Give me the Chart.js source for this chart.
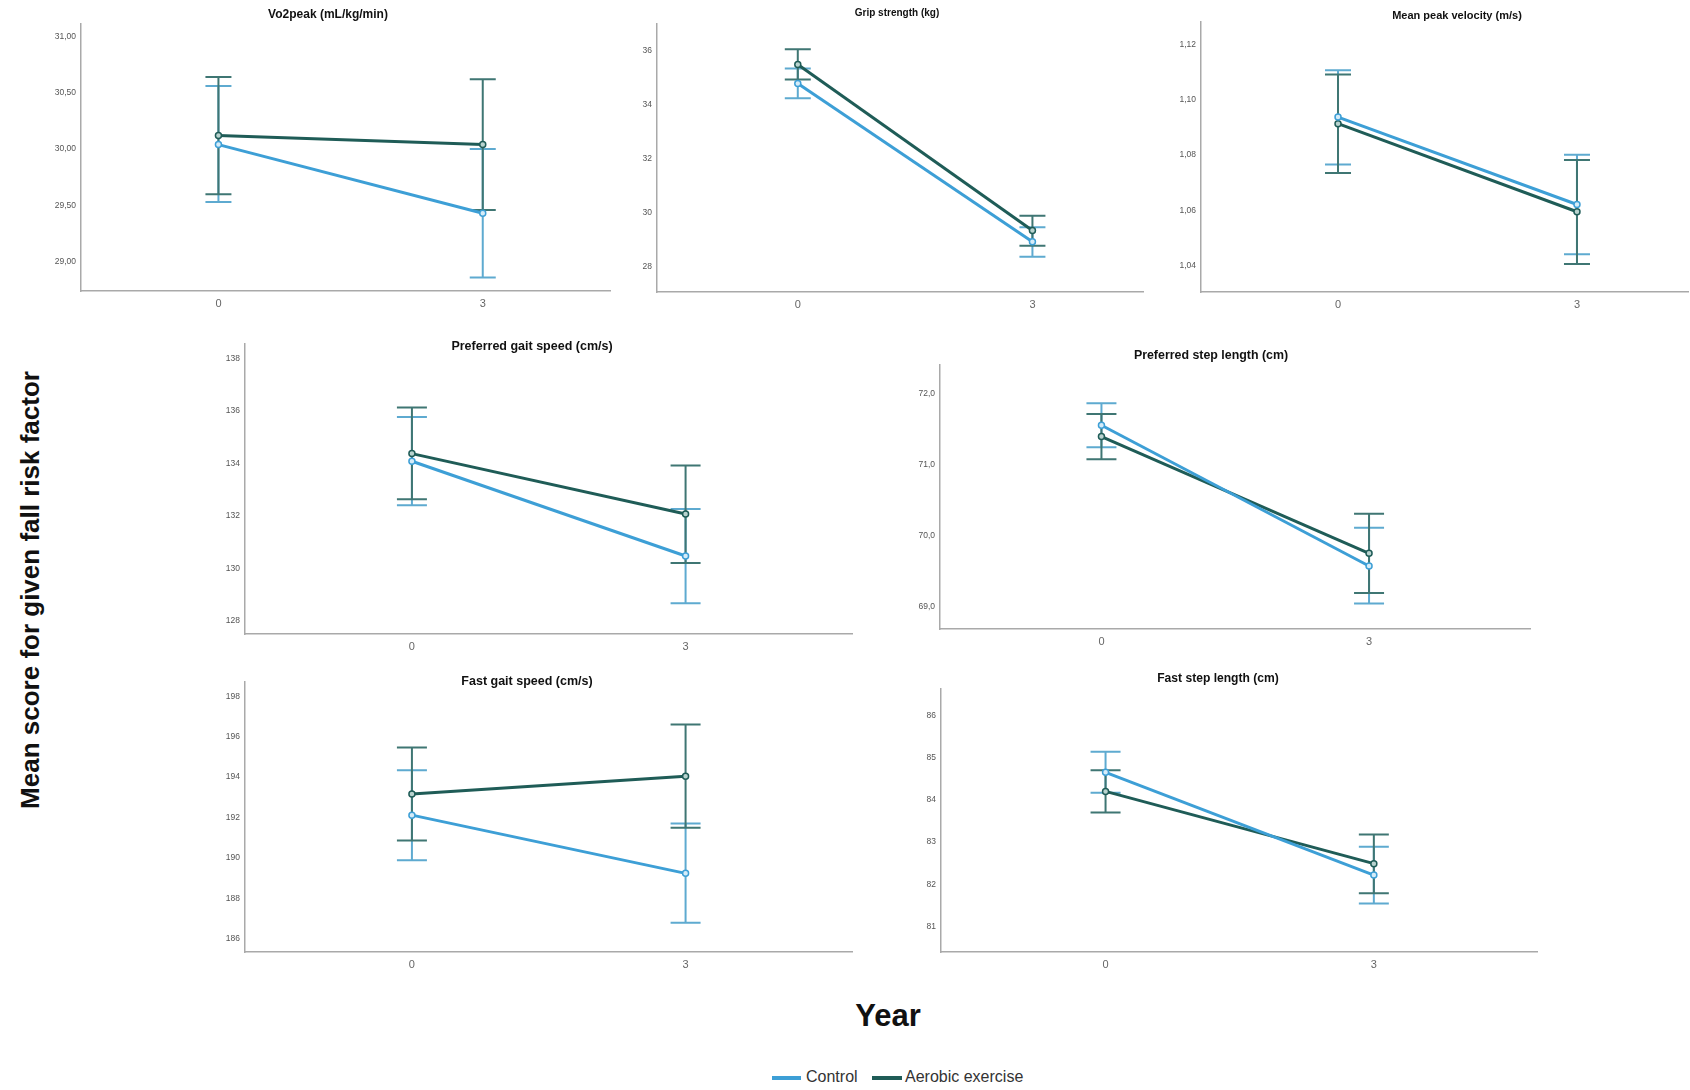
<!DOCTYPE html>
<html>
<head>
<meta charset="utf-8">
<script src="https://cdn.jsdelivr.net/npm/chart.js@4.4.1/dist/chart.umd.min.js"></script>
<style>
  html, body { margin:0; padding:0; background:#fff; width:1690px; height:1090px; overflow:hidden; }
  body { position:relative; font-family:"Liberation Sans", Arial, sans-serif; }
  canvas { position:absolute; }
  .ptitle { position:absolute; font-weight:bold; color:#111; white-space:nowrap; line-height:1; transform:translate(-50%,-50%); }
  .ytitle { position:absolute; left:30px; top:590px; font-weight:bold; font-size:26px; color:#111; white-space:nowrap; line-height:1; transform:translate(-50%,-50%) rotate(-90deg); }
  .xtitle { position:absolute; left:888px; top:1015px; font-weight:bold; font-size:31px; color:#111; line-height:1; transform:translate(-50%,-50%); }
  .leg { position:absolute; top:1078px; height:0; }
  .legline { position:absolute; height:4px; top:-2px; }
  .legtext { position:absolute; font-size:16px; color:#333; line-height:1; top:-9px; white-space:nowrap; }
</style>
</head>
<body>
<div class="ytitle">Mean score for given fall risk factor</div>
<div class="xtitle">Year</div>
<div class="leg">
  <div class="legline" style="left:772px;width:29px;background:#3d9fd6"></div>
  <div class="legtext" style="left:806px">Control</div>
  <div class="legline" style="left:872px;width:30px;background:#1f5c57"></div>
  <div class="legtext" style="left:905px">Aerobic exercise</div>
</div>
<script>
// ---------------- DATA ----------------
const years = [0, 3];
const seriesNames = ["Control", "Aerobic exercise"];
const panelTitles = [
  "Vo2peak (mL/kg/min)",
  "Grip strength (kg)",
  "Mean peak velocity (m/s)",
  "Preferred gait speed (cm/s)",
  "Preferred step length (cm)",
  "Fast gait speed (cm/s)",
  "Fast step length (cm)"
];
// means at year 0 and year 3, per panel
const controlMean = [[30.04, 29.43], [34.78, 28.91], [1.0937, 1.0621], [134.08, 130.47], [71.56, 69.57], [192.12, 189.24], [84.65, 82.22]];
const controlLow  = [[29.53, 28.86], [34.23, 28.36], [1.0766, 1.0441], [132.40, 128.67], [71.25, 69.04], [189.89, 186.80], [84.17, 81.55]];
const controlHigh = [[30.56, 30.00], [35.33, 29.45], [1.1106, 1.0801], [135.76, 132.26], [71.87, 70.11], [194.34, 191.70], [85.14, 82.89]];
const aerobicMean = [[30.12, 30.04], [35.48, 29.33], [1.0913, 1.0595], [134.37, 132.07], [71.40, 69.75], [193.17, 194.04], [84.20, 82.49]];
const aerobicLow  = [[29.60, 29.46], [34.93, 28.76], [1.0735, 1.0406], [132.63, 130.20], [71.08, 69.19], [190.87, 191.50], [83.70, 81.79]];
const aerobicHigh = [[30.64, 30.62], [36.05, 29.88], [1.1091, 1.0782], [136.13, 133.92], [71.72, 70.31], [195.47, 196.60], [84.70, 83.18]];
// y tick values and labels per panel
const yTickValues = [
  [29, 29.5, 30, 30.5, 31],
  [28, 30, 32, 34, 36],
  [1.04, 1.06, 1.08, 1.10, 1.12],
  [128, 130, 132, 134, 136, 138],
  [69, 70, 71, 72],
  [186, 188, 190, 192, 194, 196, 198],
  [81, 82, 83, 84, 85, 86]
];
const yTickLabels = [
  ["29,00", "29,50", "30,00", "30,50", "31,00"],
  ["28", "30", "32", "34", "36"],
  ["1,04", "1,06", "1,08", "1,10", "1,12"],
  ["128", "130", "132", "134", "136", "138"],
  ["69,0", "70,0", "71,0", "72,0"],
  ["186", "188", "190", "192", "194", "196", "198"],
  ["81", "82", "83", "84", "85", "86"]
];
const xTickLabels = ["0", "3"];

// ---------------- LAYOUT (positions/scale bounds) ----------------
const panels = [
  {left:81,   top:22,  right:612,  bottom:291, xMin:-1.56, xMax:4.45, yMin:28.74,  yMax:31.11,  cap:13, tx:328,  ty:14,  tf:12},
  {left:657,  top:22,  right:1145, bottom:292, xMin:-1.80, xMax:4.42, yMin:27.05,  yMax:36.98,  cap:13, tx:897,  ty:13,  tf:10},
  {left:1201, top:20,  right:1690, bottom:292, xMin:-1.72, xMax:4.40, yMin:1.0305, yMax:1.128,  cap:13, tx:1457, ty:15,  tf:11},
  {left:245,  top:342, right:854,  bottom:634, xMin:-1.83, xMax:4.83, yMin:127.5,  yMax:138.54, cap:15, tx:532,  ty:346, tf:12.5},
  {left:940,  top:363, right:1532, bottom:629, xMin:-1.81, xMax:4.81, yMin:68.68,  yMax:72.41,  cap:15, tx:1211, ty:355, tf:12.4},
  {left:245,  top:680, right:854,  bottom:952, xMin:-1.83, xMax:4.83, yMin:185.35, yMax:198.7,  cap:15, tx:527,  ty:681, tf:12.5},
  {left:941,  top:687, right:1539, bottom:952, xMin:-1.84, xMax:4.83, yMin:80.4,   yMax:86.62,  cap:15, tx:1218, ty:678, tf:12.1}
];
const controlColor = "#3d9fd6";
const aerobicColor = "#1f5c57";
const controlErrColor = "#5eaad0";
const aerobicErrColor = "#3f7673";

const errorBarsPlugin = {
  id: "errorBars",
  beforeDatasetsDraw(chart, args, opts) {
    const ctx = chart.ctx, xs = chart.scales.x, ys = chart.scales.y;
    chart.data.datasets.forEach(ds => {
      ctx.save();
      ctx.strokeStyle = ds.errColor;
      ctx.lineWidth = 2;
      ds.errLow.forEach((lo, j) => {
        const hi = ds.errHigh[j];
        const px = xs.getPixelForValue(ds.data[j].x);
        const pl = ys.getPixelForValue(lo), ph = ys.getPixelForValue(hi);
        ctx.beginPath();
        ctx.moveTo(px, pl); ctx.lineTo(px, ph);
        ctx.moveTo(px - opts.cap, pl); ctx.lineTo(px + opts.cap, pl);
        ctx.moveTo(px - opts.cap, ph); ctx.lineTo(px + opts.cap, ph);
        ctx.stroke();
      });
      ctx.restore();
    });
  }
};

Chart.defaults.font.family = '"Liberation Sans", Arial, sans-serif';
const W = 44, H = 26, PT = 8, PR = 4;

panels.forEach((p, i) => {
  const cv = document.createElement("canvas");
  const cw = p.right - p.left + W + PR;
  const ch = p.bottom - p.top + PT + H;
  cv.width = cw; cv.height = ch;
  cv.style.left = (p.left - W) + "px";
  cv.style.top = (p.top - PT) + "px";
  cv.style.width = cw + "px"; cv.style.height = ch + "px";
  document.body.appendChild(cv);

  const t = document.createElement("div");
  t.className = "ptitle";
  t.textContent = panelTitles[i];
  t.style.left = p.tx + "px"; t.style.top = p.ty + "px"; t.style.fontSize = p.tf + "px";
  document.body.appendChild(t);

  const mk = (arr) => years.map((yr, j) => ({x: yr, y: arr[i][j]}));
  new Chart(cv, {
    type: "line",
    data: {
      datasets: [
        {label: seriesNames[0], data: mk(controlMean), errLow: controlLow[i], errHigh: controlHigh[i], errColor: controlErrColor,
         borderColor: controlColor, borderWidth: 3, pointRadius: 3, pointBorderWidth: 1.5,
         pointBorderColor: controlColor, pointBackgroundColor: "#d6ecf8", tension: 0},
        {label: seriesNames[1], data: mk(aerobicMean), errLow: aerobicLow[i], errHigh: aerobicHigh[i], errColor: aerobicErrColor,
         borderColor: aerobicColor, borderWidth: 3, pointRadius: 3, pointBorderWidth: 1.5,
         pointBorderColor: aerobicColor, pointBackgroundColor: "#b9d3cf", tension: 0}
      ]
    },
    options: {
      responsive: false,
      animation: false,
      devicePixelRatio: 1,
      layout: {padding: {top: PT, right: PR, left: 0, bottom: 0}},
      plugins: {legend: {display: false}, tooltip: {enabled: false}, title: {display: false}, errorBars: {cap: p.cap}},
      scales: {
        x: {
          type: "linear", min: p.xMin, max: p.xMax,
          grid: {display: false, drawTicks: false},
          border: {display: true, color: "#a9a9a9", width: 1.5},
          afterBuildTicks: s => { s.ticks = years.map(v => ({value: v})); },
          ticks: {padding: 6, color: "#666", font: {size: 11}, maxRotation: 0,
                  callback: (v) => xTickLabels[years.indexOf(v)]},
          afterFit: s => { s.height = H; }
        },
        y: {
          type: "linear", min: p.yMin, max: p.yMax,
          grid: {display: false, drawTicks: false},
          border: {display: true, color: "#a9a9a9", width: 1.5},
          afterBuildTicks: s => { s.ticks = yTickValues[i].map(v => ({value: v})); },
          ticks: {padding: 5, color: "#555", font: {size: 8.5},
                  callback: (v) => yTickLabels[i][yTickValues[i].indexOf(v)]},
          afterFit: s => { s.width = W; }
        }
      }
    },
    plugins: [errorBarsPlugin]
  });
});
</script>
</body>
</html>
